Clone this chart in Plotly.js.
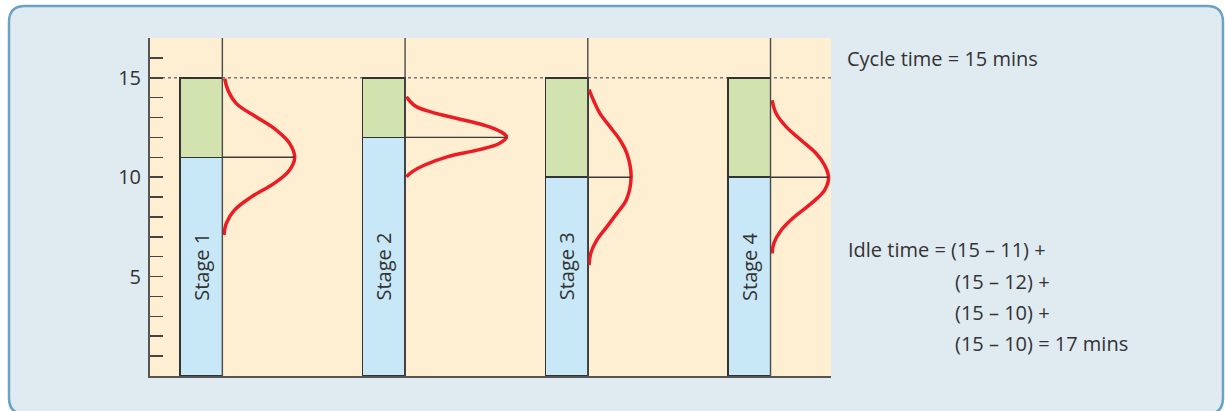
<!DOCTYPE html>
<html>
<head>
<meta charset="utf-8">
<script src="https://cdn.plot.ly/plotly-3.0.1.min.js"></script>
<style>
  html, body { margin: 0; padding: 0; background: #ffffff; }
  #plot-area { width: 1225px; height: 411px; }
</style>
</head>
<body>
<div id="plot-area"></div>
<script>
// chart data
var stageNames = ["Stage 1", "Stage 2", "Stage 3", "Stage 4"];
var stagePos = [1, 2, 3, 4];
var processTime = [11, 12, 10, 10];
var cycleTime = 15;

// red distribution curves: y level and spread to the right of each bar
var curveY = [
    [14.96, 14.37, 13.70, 13.03, 12.36, 11.71, 10.99, 10.35, 9.70, 9.01, 8.34, 7.69, 7.09],
    [14.04, 13.62, 13.28, 12.95, 12.61, 12.28, 12.03, 11.69, 11.36, 11.02, 10.60, 10.27, 10.02],
    [14.41, 13.87, 13.20, 12.53, 11.86, 11.19, 10.02, 8.84, 8.18, 7.50, 6.83, 6.17, 5.58],
    [13.87, 13.20, 12.53, 11.86, 11.19, 10.60, 9.98, 9.35, 8.68, 8.01, 7.34, 6.67, 6.17]
];
var curveSpread = [
    [0.013, 0.031, 0.077, 0.186, 0.296, 0.367, 0.396, 0.367, 0.285, 0.159, 0.066, 0.022, 0.009],
    [0.007, 0.049, 0.141, 0.285, 0.433, 0.524, 0.555, 0.515, 0.394, 0.230, 0.104, 0.038, 0.007],
    [0.007, 0.031, 0.067, 0.122, 0.177, 0.214, 0.237, 0.210, 0.159, 0.104, 0.049, 0.016, 0.007],
    [0.009, 0.031, 0.086, 0.168, 0.250, 0.296, 0.318, 0.296, 0.223, 0.131, 0.059, 0.018, 0.009]
];

var barWidth = 0.232;

// plot box in pixels: left 150, right 831, top 38, bottom 376
function px2x(px) { return (px - 150) / 681; }
function py2y(py) { return (376 - py) / 338; }

function RoundedBox(l, t, r, b, rad) {
    var p = function (x, y) { return px2x(x) + "," + py2y(y); };
    return "M" + p(l + rad, t) + " L" + p(r - rad, t) + " Q" + p(r, t) + " " + p(r, t + rad) +
        " L" + p(r, b - rad) + " Q" + p(r, b) + " " + p(r - rad, b) +
        " L" + p(l + rad, b) + " Q" + p(l, b) + " " + p(l, b - rad) +
        " L" + p(l, t + rad) + " Q" + p(l, t) + " " + p(l + rad, t) + " Z";
}

function UpdatePlot() {
    var idleTime = processTime.map(function (t) { return cycleTime - t; });

    var data = [
        {
            type: "bar",
            x: stagePos,
            y: processTime,
            width: barWidth,
            marker: {color: "#c8e8f8", line: {color: "#333333", width: 1.5}},
            hoverinfo: "skip"
        },
        {
            type: "bar",
            x: stagePos,
            y: idleTime,
            width: barWidth,
            marker: {color: "#d2e3b0", line: {color: "#333333", width: 1.5}},
            hoverinfo: "skip"
        }
    ];

    var shapes = [
        // outer panel
        {type: "path", xref: "paper", yref: "paper", layer: "below",
         path: RoundedBox(9, 6, 1223, 414, 16),
         fillcolor: "#dfeaf1", line: {color: "#6ba3c0", width: 2.5}},
        // plot background
        {type: "rect", xref: "paper", yref: "paper", layer: "below",
         x0: 0, x1: 1, y0: 0, y1: 1, fillcolor: "#feefd3", line: {width: 0}},
        // cycle time line
        {type: "line", xref: "paper", yref: "y", layer: "below",
         x0: 0, x1: 1, y0: cycleTime, y1: cycleTime,
         line: {color: "#777777", width: 1.5, dash: "dot"}}
    ];

    for (var i = 0; i < stagePos.length; i++) {
        var edge = stagePos[i] + barWidth / 2;
        var peak = Math.max.apply(null, curveSpread[i]);

        shapes.push({type: "line", xref: "x", yref: "paper", x0: edge, x1: edge, y0: 0, y1: 1,
                     line: {color: "#4a4a4a", width: 1.4}});
        shapes.push({type: "line", xref: "x", yref: "y", x0: edge, x1: edge + peak,
                     y0: processTime[i], y1: processTime[i],
                     line: {color: "#3a3a3a", width: 1.4}});

        data.push({
            type: "scatter",
            mode: "lines",
            x: curveSpread[i].map(function (s) { return edge + s; }),
            y: curveY[i],
            line: {color: "#ec1c24", width: 3.5, shape: "spline", smoothing: 1.1},
            hoverinfo: "skip"
        });
    }

    var annotations = stageNames.map(function (name, i) {
        return {x: stagePos[i], y: 5.5, xref: "x", yref: "y", text: name, showarrow: false,
                textangle: -90, font: {size: 20, color: "#333333"}};
    });

    annotations.push({xref: "paper", yref: "paper", x: px2x(845), y: py2y(59),
                      xanchor: "left", yanchor: "middle", showarrow: false,
                      text: "Cycle time = " + cycleTime + " mins",
                      font: {size: 20, color: "#333333"}});

    var parts = processTime.map(function (t) { return "(" + cycleTime + " – " + t + ")"; });
    var total = idleTime.reduce(function (a, b) { return a + b; }, 0);
    var idleLines = [
        "Idle time = " + parts[0] + " +",
        parts[1] + " +",
        parts[2] + " +",
        parts[3] + " = " + total + " mins"
    ];
    var lineLeft = [846, 953, 953, 953];
    var lineMid = [249, 281, 312, 343];
    idleLines.forEach(function (txt, k) {
        annotations.push({xref: "paper", yref: "paper", x: px2x(lineLeft[k]), y: py2y(lineMid[k]),
                          xanchor: "left", yanchor: "middle", showarrow: false, text: txt,
                          font: {size: 20, color: "#333333"}});
    });

    var layout = {
        width: 1225,
        height: 411,
        margin: {l: 150, r: 394, t: 38, b: 35},
        paper_bgcolor: "#ffffff",
        plot_bgcolor: "rgba(0,0,0,0)",
        font: {family: "'Open Sans', sans-serif", color: "#333333"},
        barmode: "stack",
        showlegend: false,
        hovermode: false,
        xaxis: {
            range: [0.72, 4.447],
            showline: true, linecolor: "#555555", linewidth: 2,
            showgrid: false, zeroline: false, ticks: "", showticklabels: false
        },
        yaxis: {
            range: [0, 17],
            showline: true, linecolor: "#555555", linewidth: 2,
            showgrid: false, zeroline: false,
            tickvals: [5, 10, 15],
            ticks: "inside", ticklen: 13, tickwidth: 1.5, tickcolor: "#444444",
            tickfont: {size: 20, color: "#333333"},
            ticklabelstandoff: 3,
            minor: {dtick: 1, tick0: 0, ticks: "inside", ticklen: 13, tickwidth: 1.5, tickcolor: "#444444", showgrid: false}
        },
        shapes: shapes,
        annotations: annotations
    };

    Plotly.newPlot("plot-area", data, layout, {staticPlot: true, displayModeBar: false});
}

UpdatePlot();
</script>
</body>
</html>
